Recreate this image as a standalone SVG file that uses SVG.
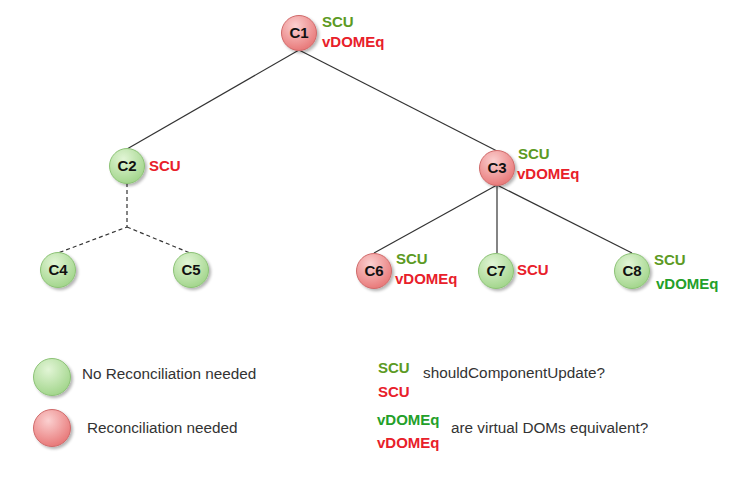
<svg xmlns="http://www.w3.org/2000/svg" width="750" height="486" viewBox="0 0 750 486">
<defs>
<radialGradient id="gG" cx="0.4" cy="0.3" r="0.75">
<stop offset="0" stop-color="#e2f5d6"/>
<stop offset="1" stop-color="#9fd488"/>
</radialGradient>
<radialGradient id="gR" cx="0.4" cy="0.3" r="0.75">
<stop offset="0" stop-color="#fbd0d0"/>
<stop offset="1" stop-color="#e77474"/>
</radialGradient>
<filter id="sh" x="-30%" y="-30%" width="170%" height="170%">
<feGaussianBlur in="SourceAlpha" stdDeviation="1.5"/>
<feOffset dx="2" dy="2" result="b"/>
<feComponentTransfer><feFuncA type="linear" slope="0.3"/></feComponentTransfer>
<feMerge><feMergeNode/><feMergeNode in="SourceGraphic"/></feMerge>
</filter>
</defs>
<style>
.g{fill:url(#gG);stroke:#8cc276;stroke-width:1;filter:url(#sh)}
.r{fill:url(#gR);stroke:#cf6a6a;stroke-width:1;filter:url(#sh)}
.n{font-family:"Liberation Sans",Arial,sans-serif;font-weight:bold;font-size:15px;fill:#111;text-anchor:middle}
.l{font-family:"Liberation Sans",Arial,sans-serif;font-weight:bold;font-size:15px}
.sg{fill:#5c9a23}
.vg{fill:#23a02a}
.rd{fill:#e8202a}
.t{font-family:"Liberation Sans",Arial,sans-serif;font-size:15.3px;fill:#333}
.e{stroke:#333;stroke-width:1.2;fill:none}
.d{stroke:#333;stroke-width:1.2;fill:none;stroke-dasharray:4,3}
</style>
<rect width="750" height="486" fill="#fff"/>
<g id="connectors">
<line class="e" x1="299" y1="50" x2="127" y2="149"/>
<line class="e" x1="299" y1="50" x2="497" y2="151"/>
<line class="e" x1="497" y1="185" x2="374" y2="253"/>
<line class="e" x1="497" y1="185" x2="497" y2="253"/>
<line class="e" x1="497" y1="185" x2="632" y2="253"/>
<polyline class="d" points="127,183 127,227 58,253"/>
<line class="d" x1="127" y1="227" x2="190" y2="253"/>
</g>
<g id="C1"><circle class="r" cx="299" cy="33" r="17.5"/><text class="n" x="299" y="38">C1</text>
<text class="l sg" x="322" y="27">SCU</text><text class="l rd" x="322" y="47">vDOMEq</text></g>
<g id="C2"><circle class="g" cx="127" cy="166" r="17.5"/><text class="n" x="127" y="171">C2</text>
<text class="l rd" x="149" y="171">SCU</text></g>
<g id="C3"><circle class="r" cx="497" cy="168" r="17.5"/><text class="n" x="497" y="173">C3</text>
<text class="l sg" x="518" y="159">SCU</text><text class="l rd" x="517" y="179">vDOMEq</text></g>
<g id="C4"><circle class="g" cx="58" cy="270" r="17.5"/><text class="n" x="58" y="275">C4</text></g>
<g id="C5"><circle class="g" cx="191" cy="270" r="17.5"/><text class="n" x="191" y="275">C5</text></g>
<g id="C6"><circle class="r" cx="374" cy="271" r="17.5"/><text class="n" x="374" y="276">C6</text>
<text class="l sg" x="396" y="264">SCU</text><text class="l rd" x="395" y="284">vDOMEq</text></g>
<g id="C7"><circle class="g" cx="496" cy="271" r="17.5"/><text class="n" x="496" y="276">C7</text>
<text class="l rd" x="517" y="275">SCU</text></g>
<g id="C8"><circle class="g" cx="632" cy="271" r="17.5"/><text class="n" x="632" y="276">C8</text>
<text class="l sg" x="654" y="265">SCU</text><text class="l vg" x="656" y="289">vDOMEq</text></g>
<g id="legend">
<circle class="g" cx="52" cy="377" r="18.5"/>
<text class="t" x="82" y="379">No Reconciliation needed</text>
<circle class="r" cx="52" cy="428" r="18.5"/>
<text class="t" x="87" y="433">Reconciliation needed</text>
<text class="l sg" x="378" y="373">SCU</text>
<text class="l rd" x="378" y="397">SCU</text>
<text class="t" x="423" y="378">shouldComponentUpdate?</text>
<text class="l vg" x="377" y="425">vDOMEq</text>
<text class="l rd" x="377" y="448">vDOMEq</text>
<text class="t" x="451" y="433">are virtual DOMs equivalent?</text>
</g>
</svg>
